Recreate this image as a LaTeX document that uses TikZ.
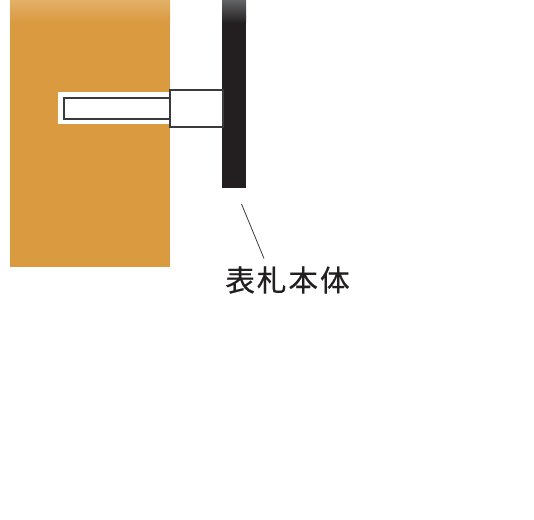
\documentclass[tikz,border=0pt]{standalone}
\usepackage{fontspec}
\newfontfamily\cjk[LetterSpace=7,FakeBold=0.5]{Noto Sans CJK JP}
\definecolor{wood}{HTML}{DA9A40}
\definecolor{woodtop}{HTML}{E3B068}
\definecolor{plate}{HTML}{231F20}
\definecolor{platetop}{HTML}{626365}
\definecolor{edge}{HTML}{3A3A3C}
\tikzset{
  partbox/.style={draw=edge,fill=white,line width=2.2pt,outer sep=0pt,inner sep=0pt,anchor=north west},
  leader/.style={draw=edge,line width=0.8pt},
  caption/.style={font=\cjk\fontsize{29.5}{33}\selectfont,text=plate,inner sep=0pt}
}
\begin{document}
\begin{tikzpicture}[x=1pt,y=-1pt]
\useasboundingbox (0,0) rectangle (534,519);
\fill[wood] (10,20) rectangle (170,267);
\shade[top color=woodtop,bottom color=wood] (10,0) rectangle (170,22);
\fill[plate] (222,22) rectangle (246,188);
\shade[top color=platetop,bottom color=plate] (222,0) rectangle (246,23);
\fill[white] (58,92) rectangle (170,124);
\node[partbox,minimum width=107pt,minimum height=20.8pt] (bolt) at (64,98) {};
\node[partbox,minimum width=52.5pt,minimum height=37pt] (head) at (170.2,90) {};
\node[caption] (label) at (287.5,280) {表札本体};
\coordinate (tip) at (241.5,204);
\coordinate (foot) at (264,258.5);
\draw[leader] (tip) -- (foot);
\end{tikzpicture}
\end{document}
